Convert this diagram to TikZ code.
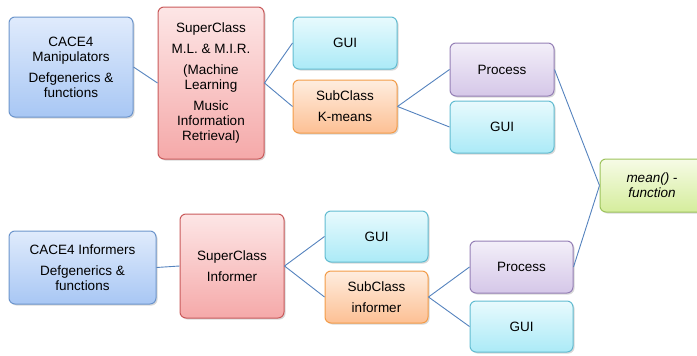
\documentclass[tikz,border=0pt]{standalone}
\usepackage{fontspec}
\setmainfont{Liberation Sans}
\usetikzlibrary{shadows}

\definecolor{lineblue}{HTML}{5583BE}
\definecolor{bluedraw}{HTML}{6C95CC}
\definecolor{bluetop}{HTML}{E0EBFC}
\definecolor{bluebot}{HTML}{A8C7F4}
\definecolor{reddraw}{HTML}{C95A5B}
\definecolor{redtop}{HTML}{FDE6E6}
\definecolor{redbot}{HTML}{F5A9A9}
\definecolor{cyandraw}{HTML}{62BCD1}
\definecolor{cyantop}{HTML}{E8FAFD}
\definecolor{cyanbot}{HTML}{ABEAF7}
\definecolor{orangedraw}{HTML}{F39C48}
\definecolor{orangetop}{HTML}{FEEDDF}
\definecolor{orangebot}{HTML}{FDC094}
\definecolor{purpledraw}{HTML}{9580B6}
\definecolor{purpletop}{HTML}{F3EFF9}
\definecolor{purplebot}{HTML}{D5C7E8}
\definecolor{greendraw}{HTML}{9DC35C}
\definecolor{greentop}{HTML}{F6FBE6}
\definecolor{greenbot}{HTML}{D5ED9C}

\tikzset{
	box/.style n args={3}{draw=#1, top color=#2, bottom color=#3, line width=1pt,
		rounded corners=6pt, align=center, inner sep=2pt,
		font=\fontsize{13.5}{15}\selectfont,
		drop shadow={opacity=0.3, shadow xshift=1.5pt, shadow yshift=-1.5pt}},
	bluebox/.style={box={bluedraw}{bluetop}{bluebot}},
	redbox/.style={box={reddraw}{redtop}{redbot}},
	cyanbox/.style={box={cyandraw}{cyantop}{cyanbot}},
	orangebox/.style={box={orangedraw}{orangetop}{orangebot}},
	purplebox/.style={box={purpledraw}{purpletop}{purplebot}},
	greenbox/.style={box={greendraw}{greentop}{greenbot}},
	link/.style={draw=lineblue, line width=0.9pt}
}
\newcommand{\block}[3]{
	\node[#3, minimum width = #1, minimum height = #2]
}

\begin{document}
\begin{tikzpicture}[x=1pt, y=-1pt]
	\useasboundingbox (0,0) rectangle (697,356);

	% upper tree
	\block{124pt}{100pt}{bluebox} (manip) at (71,67) {CACE4\\Manipulators\\[6pt]Defgenerics \&\\functions};
	\block{106pt}{152pt}{redbox} (superml) at (211,83) {SuperClass\\[6pt]M.L. \& M.I.R.\\[6pt](Machine\\Learning\\[6pt]Music\\Information\\Retrieval)};
	\block{104pt}{52pt}{cyanbox} (guia) at (345,43) {GUI};
	\block{104pt}{53pt}{orangebox} (subk) at (345,106.5) {SubClass\\[6pt]K-means};
	\block{104pt}{53pt}{purplebox} (proca) at (502,69.5) {Process};
	\block{104pt}{52pt}{cyanbox} (guib) at (502,127) {GUI};

	\block{104pt}{53pt}{greenbox} (mean) at (652,185.5) {\itshape mean() -\\\itshape function};

	% lower tree
	\block{147pt}{73pt}{bluebox} (inform) at (82.5,267.5) {CACE4 Informers\\[6pt]Defgenerics \&\\functions};
	\block{104pt}{104pt}{redbox} (superinf) at (232,266) {SuperClass\\[6pt]Informer};
	\block{103pt}{51pt}{cyanbox} (guic) at (376.5,236.5) {GUI};
	\block{103pt}{52pt}{orangebox} (subinf) at (376.5,297) {SubClass\\[6pt]informer};
	\block{103pt}{52pt}{purplebox} (procb) at (521.5,267) {Process};
	\block{103pt}{51pt}{cyanbox} (guid) at (521.5,326.5) {GUI};

	\draw[link] (manip.east) -- (superml.west);
	\draw[link] (superml.east) -- (guia.west);
	\draw[link] (superml.east) -- (subk.west);
	\draw[link] (subk.east) -- (proca.west);
	\draw[link] (subk.east) -- (guib.west);
	\draw[link] (proca.east) -- (mean.west);

	\draw[link] (inform.east) -- (superinf.west);
	\draw[link] (superinf.east) -- (guic.west);
	\draw[link] (superinf.east) -- (subinf.west);
	\draw[link] (subinf.east) -- (procb.west);
	\draw[link] (subinf.east) -- (guid.west);
	\draw[link] (procb.east) -- (mean.west);
\end{tikzpicture}
\end{document}
